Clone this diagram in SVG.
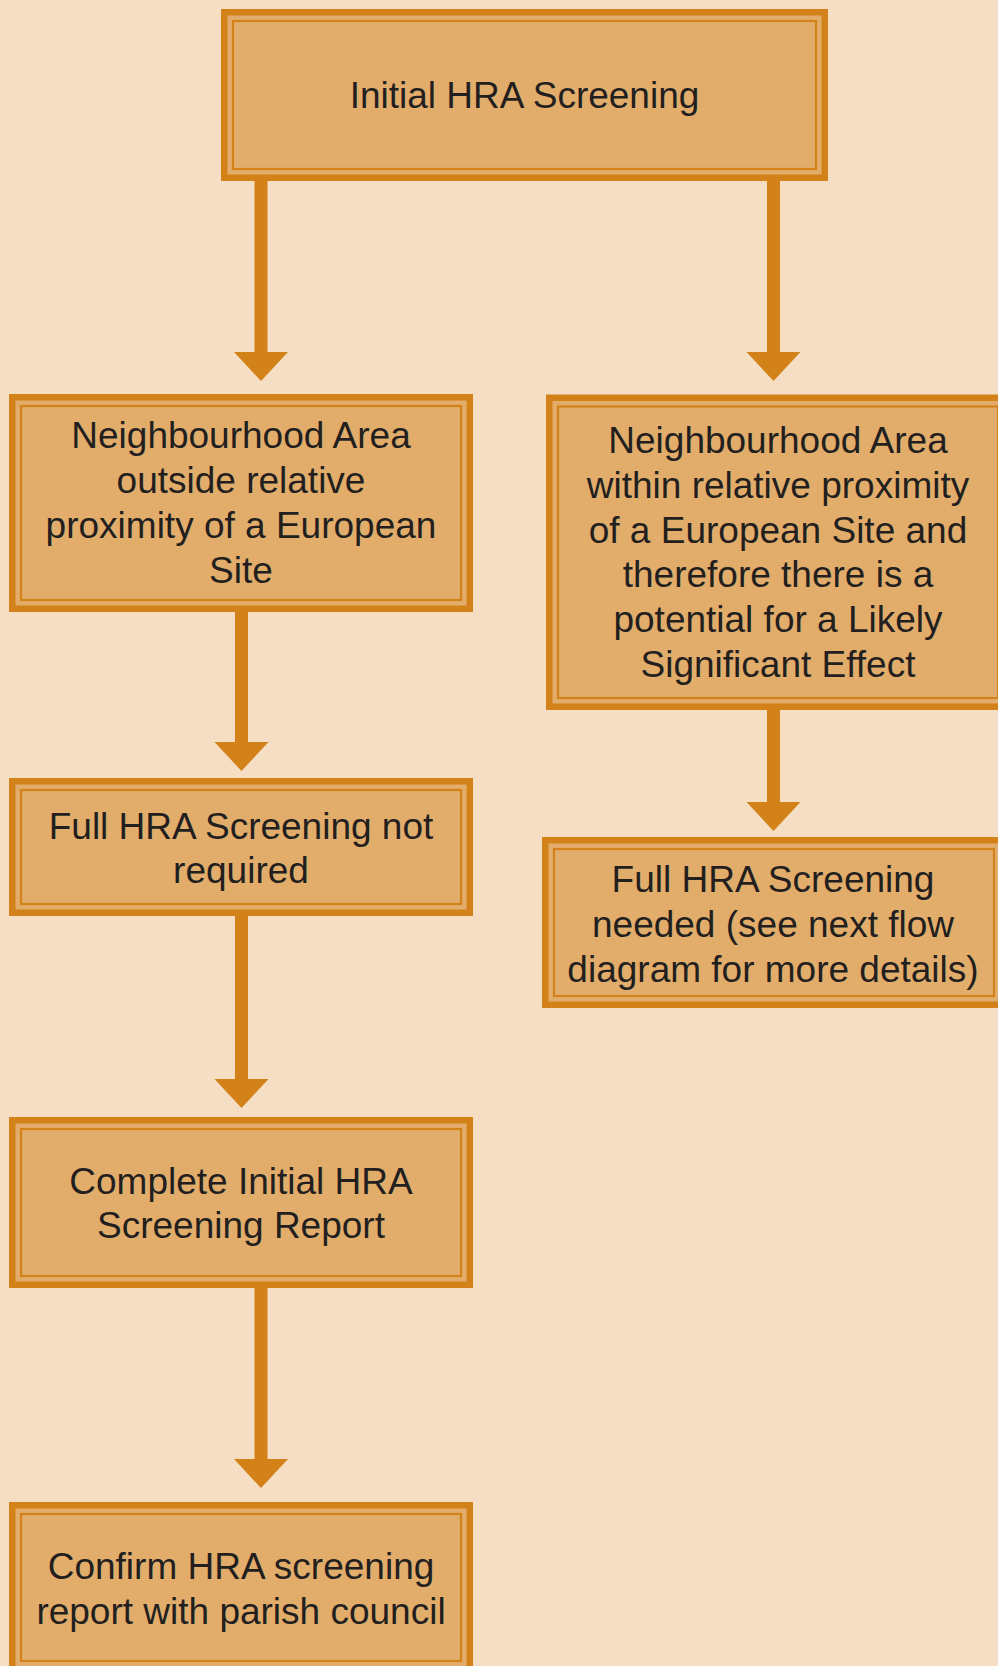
<svg xmlns="http://www.w3.org/2000/svg" width="998" height="1666" viewBox="0 0 998 1666">
<style>
.outer{fill:#E2AD6B;stroke:#D38219;stroke-width:6.5}
.inner{fill:none;stroke:#D38219;stroke-width:2.2}
.lbl{font-family:"Liberation Sans",Arial,sans-serif;font-size:37px;fill:#231F1F;text-anchor:middle}
.arr{fill:#D38219}
</style>
<rect x="0" y="0" width="998" height="1666" fill="#F5DEC3"/>
<g id="connectors">
<path class="arr" d="M254.5,181 H267.5 V352 H288 L261,381 L234,352 H254.5 Z"/>
<path class="arr" d="M767,181 H780 V352 H800.5 L773.5,381 L746.5,352 H767 Z"/>
<path class="arr" d="M235,612 H248 V742 H268.5 L241.5,771 L214.5,742 H235 Z"/>
<path class="arr" d="M767,708 H780 V802 H800.5 L773.5,831 L746.5,802 H767 Z"/>
<path class="arr" d="M235,916 H248 V1079 H268.5 L241.5,1108 L214.5,1079 H235 Z"/>
<path class="arr" d="M254.5,1288 H267.5 V1459 H288 L261,1488 L234,1459 H254.5 Z"/>
</g>
<g id="n1">
<rect class="outer" x="224.25" y="12.25" width="600.5" height="165.5"/>
<rect class="inner" x="233" y="21" width="583" height="148"/>
<text class="lbl" x="524.5" y="108">Initial HRA Screening</text>
</g>
<g id="n2">
<rect class="outer" x="12.25" y="397.25" width="457.5" height="211.5"/>
<rect class="inner" x="21" y="406" width="440" height="194"/>
<text class="lbl" x="241"><tspan x="241" y="448">Neighbourhood Area</tspan><tspan x="241" y="493">outside relative</tspan><tspan x="241" y="538">proximity of a European</tspan><tspan x="241" y="583">Site</tspan></text>
</g>
<g id="n3">
<rect class="outer" x="549.25" y="397.75" width="457.5" height="309"/>
<rect class="inner" x="558" y="406.5" width="440" height="291.5"/>
<text class="lbl" x="778"><tspan x="778" y="453">Neighbourhood Area</tspan><tspan x="778" y="498">within relative proximity</tspan><tspan x="778" y="543">of a European Site and</tspan><tspan x="778" y="587">therefore there is a</tspan><tspan x="778" y="632">potential for a Likely</tspan><tspan x="778" y="677">Significant Effect</tspan></text>
</g>
<g id="n4">
<rect class="outer" x="12.25" y="781.25" width="457.5" height="131.5"/>
<rect class="inner" x="21" y="790" width="440" height="114"/>
<text class="lbl" x="241"><tspan x="241" y="839">Full HRA Screening not</tspan><tspan x="241" y="883">required</tspan></text>
</g>
<g id="n5">
<rect class="outer" x="545.25" y="840.25" width="457.5" height="164.5"/>
<rect class="inner" x="554" y="849" width="440" height="147"/>
<text class="lbl" x="773"><tspan x="773" y="892">Full HRA Screening</tspan><tspan x="773" y="937">needed (see next flow</tspan><tspan x="773" y="982">diagram for more details)</tspan></text>
</g>
<g id="n6">
<rect class="outer" x="12.25" y="1120.25" width="457.5" height="164.5"/>
<rect class="inner" x="21" y="1129" width="440" height="147"/>
<text class="lbl" x="241"><tspan x="241" y="1194">Complete Initial HRA</tspan><tspan x="241" y="1238">Screening Report</tspan></text>
</g>
<g id="n7">
<rect class="outer" x="12.25" y="1505.25" width="457.5" height="164"/>
<rect class="inner" x="21" y="1514" width="440" height="147"/>
<text class="lbl" x="241"><tspan x="241" y="1579">Confirm HRA screening</tspan><tspan x="241" y="1624">report with parish council</tspan></text>
</g>
</svg>
